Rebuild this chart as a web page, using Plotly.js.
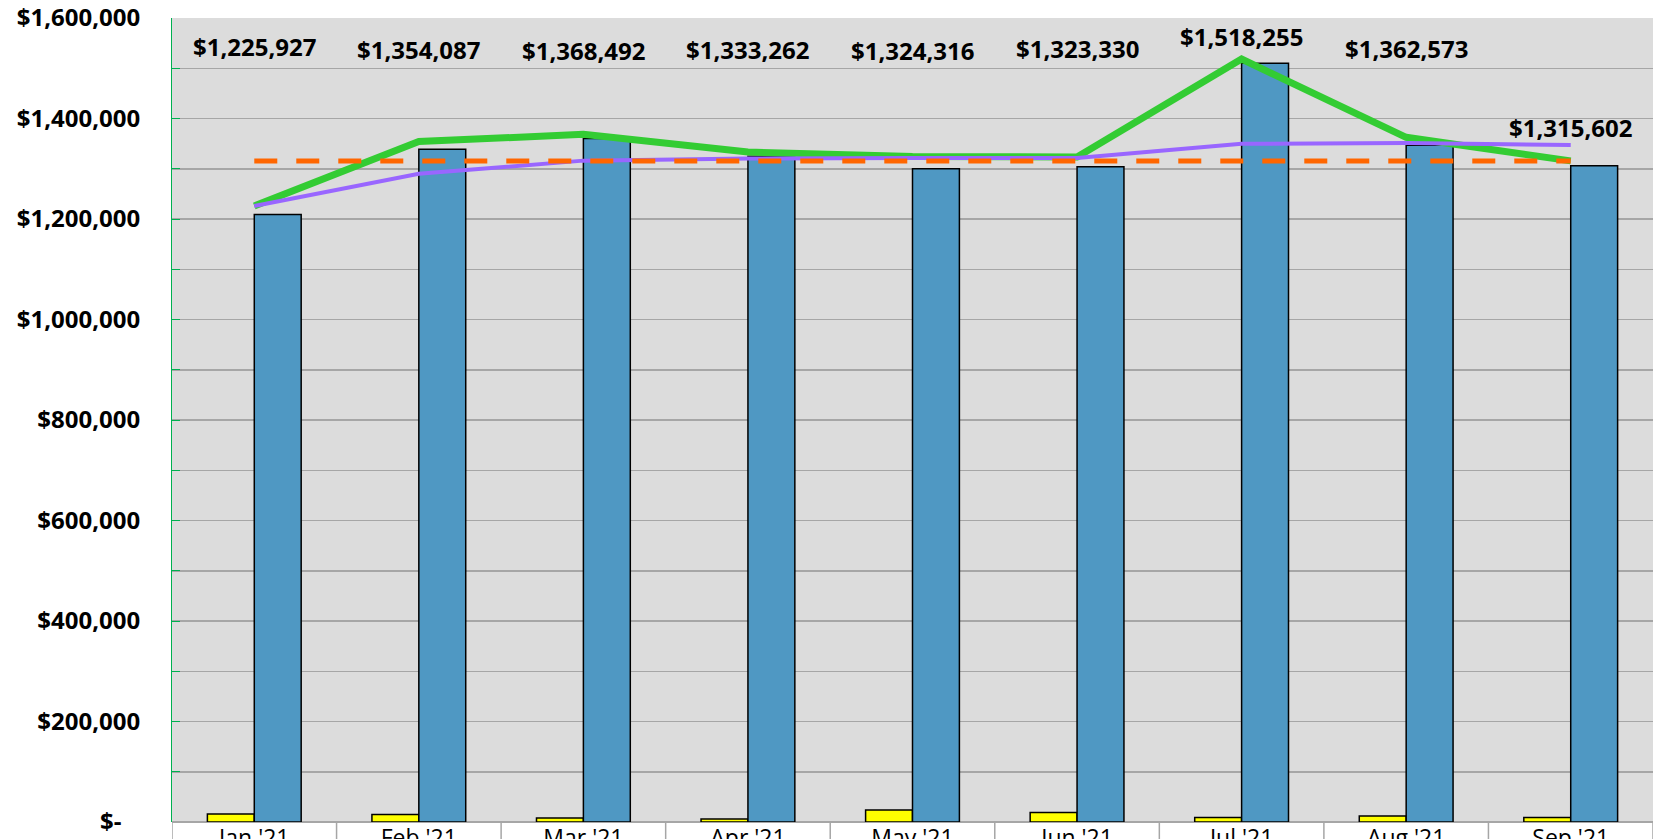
<!DOCTYPE html>
<html>
<head>
<meta charset="utf-8">
<script src="https://cdn.plot.ly/plotly-3.0.1.min.js"></script>
<style>
  html, body { margin: 0; padding: 0; overflow: hidden; background: #ffffff; }
  #chart { width: 1653px; height: 880px; }
</style>
</head>
<body>
<div id="chart"></div>
<script>
// months on the x axis
var months = ["Jan '21", "Feb '21", "Mar '21", "Apr '21", "May '21", "Jun '21", "Jul '21", "Aug '21", "Sep '21"];

// small yellow bars
var yellowValues = [16000, 15000, 8000, 6000, 24000, 19000, 9000, 12000, 9000];
// blue bars
var blueValues = [1209000, 1339000, 1360000, 1325000, 1300000, 1304000, 1510000, 1347000, 1306000];
// green line (labelled values)
var greenValues = [1225927, 1354087, 1368492, 1333262, 1324316, 1323330, 1518255, 1362573, 1315602];
// purple line (running average)
var purpleValues = [1225927, 1290007, 1316169, 1320442, 1321217, 1321569, 1349667, 1351280, 1347316];
// orange dashed line (flat)
var orangeValues = [1315602, 1315602, 1315602, 1315602, 1315602, 1315602, 1315602, 1315602, 1315602];

// where the value labels sit (data units, as placed in the original)
var labelY = [1544000, 1538000, 1536000, 1538000, 1536000, 1540000, 1563000, 1540000, 1382000];

// y axis ticks
var yTickVals = [0, 100000, 200000, 300000, 400000, 500000, 600000, 700000, 800000,
                 900000, 1000000, 1100000, 1200000, 1300000, 1400000, 1500000, 1600000];
var yTickText = ["$-\u00a0\u00a0\u00a0", "", "$200,000", "", "$400,000", "", "$600,000", "", "$800,000",
                 "", "$1,000,000", "", "$1,200,000", "", "$1,400,000", "", "$1,600,000"];

function money(v){
    return "$" + v.toLocaleString("en-US");
}

var labelFont = { family: 'Open Sans, sans-serif', size: 24, color: '#000000', weight: 'bold' };

var trace1 = {
    x: months,
    y: yellowValues,
    type: 'bar',
    marker: { color: '#ffff00', line: { color: '#000000', width: 1.5 } },
    name: 'Yellow'
};

var trace2 = {
    x: months,
    y: blueValues,
    type: 'bar',
    marker: { color: '#4f98c3', line: { color: '#000000', width: 1.5 } },
    name: 'Blue'
};

var trace3 = {
    x: months,
    y: greenValues,
    mode: 'lines',
    line: { color: '#33cc33', width: 7 },
    name: 'Green'
};

var trace4 = {
    x: months,
    y: purpleValues,
    mode: 'lines',
    line: { color: '#9966ff', width: 4 },
    name: 'Purple'
};

var trace5 = {
    x: months,
    y: orangeValues,
    mode: 'lines',
    line: { color: '#ff6600', width: 5, dash: '23px,19px' },
    name: 'Orange'
};

var annotations = [];
for (var i = 0; i < months.length; i++) {
    annotations.push({
        x: months[i],
        y: labelY[i],
        xref: 'x',
        yref: 'y',
        text: money(greenValues[i]),
        showarrow: false,
        font: labelFont
    });
}

// the box dividers under the axis
var shapes = [];
for (var k = 0; k <= months.length; k++) {
    shapes.push({
        type: 'line',
        xref: 'x',
        yref: 'paper',
        x0: k - 0.5,
        x1: k - 0.5,
        y0: 0,
        y1: -0.2,
        line: { color: '#a6a6a6', width: 1.5 }
    });
}

var layout = {
    width: 1653,
    height: 880,
    margin: { l: 172, r: 0, t: 18, b: 58 },
    paper_bgcolor: '#ffffff',
    plot_bgcolor: '#dcdcdc',
    showlegend: false,
    barmode: 'group',
    bargap: 0.43,
    bargroupgap: 0,
    xaxis: {
        type: 'category',
        range: [-0.5, 8.5],
        showgrid: false,
        zeroline: false,
        showline: false,
        ticks: '',
        tickfont: { family: 'Open Sans, sans-serif', size: 23, color: '#000000' }
    },
    yaxis: {
        range: [0, 1600000],
        tickmode: 'array',
        tickvals: yTickVals,
        ticktext: yTickText,
        showgrid: true,
        gridcolor: '#a6a6a6',
        gridwidth: 1.5,
        zeroline: true,
        zerolinecolor: '#a6a6a6',
        zerolinewidth: 1.5,
        showline: true,
        linecolor: '#00b050',
        linewidth: 1,
        ticks: 'inside',
        ticklen: 8,
        tickcolor: '#00b050',
        ticklabelstandoff: 26,
        tickfont: labelFont
    },
    annotations: annotations,
    shapes: shapes
};

Plotly.newPlot("chart", [trace1, trace2, trace3, trace4, trace5], layout, { displayModeBar: false, staticPlot: true });
</script>
</body>
</html>
